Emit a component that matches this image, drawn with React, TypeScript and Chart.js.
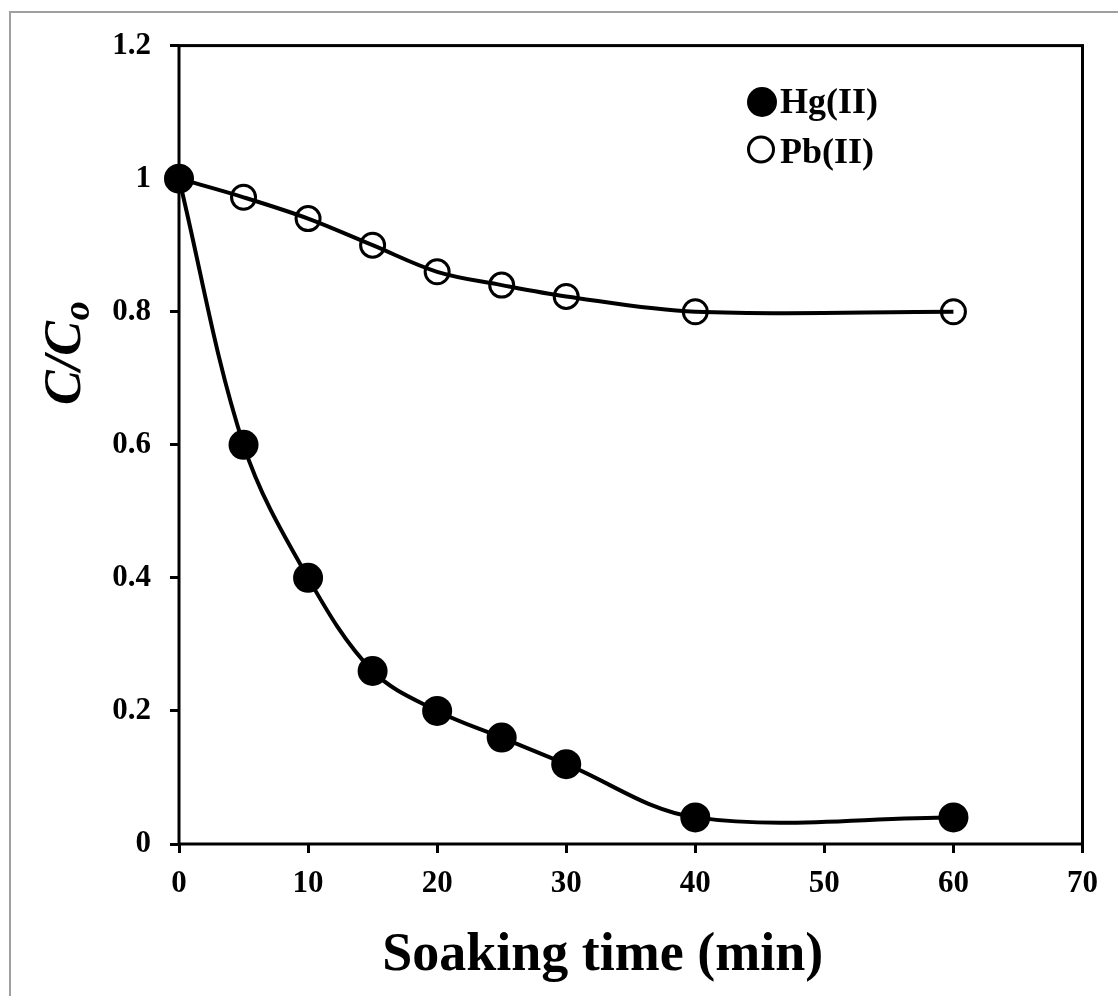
import React, { useEffect, useRef } from "react";
import { Chart, registerables } from "chart.js";

Chart.register(...registerables);

const timeMin = [0, 5, 10, 15, 20, 25, 30, 40, 60];
const hgValues = [1, 0.6, 0.4, 0.26, 0.2, 0.16, 0.12, 0.04, 0.04];
const pbValues = [1, 0.972, 0.94, 0.9, 0.86, 0.84, 0.823, 0.8, 0.8];
const xTickLabels = ["0", "10", "20", "30", "40", "50", "60", "70"];
const yTickLabels = ["0", "0.2", "0.4", "0.6", "0.8", "1", "1.2"];
const seriesNames = ["Hg(II)", "Pb(II)"];
const xTitle = "Soaking time (min)";

const SERIF = "'Liberation Serif', 'Times New Roman', serif";
const W = 1102;
const H = 980;

const decor = {
  id: "decor",
  beforeDatasetsDraw(chart: any) {
    const { ctx, chartArea: a } = chart;
    ctx.save();
    ctx.strokeStyle = "#000";
    ctx.lineWidth = 3;
    ctx.strokeRect(a.left, a.top, a.right - a.left, a.bottom - a.top);
    ctx.restore();
  },
  afterDraw(chart: any) {
    const { ctx, chartArea: a } = chart;
    ctx.save();
    ctx.fillStyle = "#000";
    ctx.strokeStyle = "#000";
    // legend
    ctx.font = `bold 36px ${SERIF}`;
    ctx.textBaseline = "alphabetic";
    ctx.textAlign = "left";
    ctx.beginPath();
    ctx.arc(754, 94, 15, 0, Math.PI * 2);
    ctx.fill();
    ctx.fillText(seriesNames[0], 772, 105);
    ctx.lineWidth = 3;
    ctx.beginPath();
    ctx.arc(753, 141.5, 12.5, 0, Math.PI * 2);
    ctx.stroke();
    ctx.fillText(seriesNames[1], 772, 155);

    // x title
    ctx.font = `bold 54px ${SERIF}`;
    ctx.textAlign = "center";
    ctx.fillText(xTitle, (a.left + a.right) / 2 - 28, 962);

    // y title
    ctx.save();
    ctx.translate(72, 397);
    ctx.rotate(-Math.PI / 2);
    ctx.textAlign = "left";
    ctx.font = `italic bold 52px ${SERIF}`;
    const main = "C/C";
    ctx.fillText(main, 0, 0);
    const w = ctx.measureText(main).width;
    ctx.font = `italic bold 38px ${SERIF}`;
    ctx.fillText("o", w + 1, 9);
    ctx.restore();

    ctx.restore();
  },
};

export default function App() {
  const ref = useRef<HTMLCanvasElement | null>(null);
  useEffect(() => {
    if (!ref.current) return;
    const chart = new Chart(ref.current, {
      type: "line",
      data: {
        datasets: [
          {
            label: seriesNames[0],
            data: timeMin.map((t, i) => ({ x: t, y: hgValues[i] })),
            borderColor: "#000",
            borderWidth: 4,
            tension: 0.35,
            pointRadius: 15,
            pointHoverRadius: 15,
            pointBackgroundColor: "#000",
            pointBorderColor: "#000",
            pointBorderWidth: 0,
            clip: false as any,
            fill: false,
          },
          {
            label: seriesNames[1],
            data: timeMin.map((t, i) => ({ x: t, y: pbValues[i] })),
            borderColor: "#000",
            borderWidth: 4,
            tension: 0.35,
            pointRadius: 12,
            pointHoverRadius: 12,
            pointBackgroundColor: "rgba(0,0,0,0)",
            pointBorderColor: "#000",
            pointBorderWidth: 3,
            clip: false as any,
            fill: false,
          },
        ],
      },
      options: {
        animation: false,
        responsive: false,
        maintainAspectRatio: false,
        events: [],
        layout: { padding: { top: 35, right: 24, left: 0, bottom: 0 } },
        plugins: {
          legend: { display: false },
          tooltip: { enabled: false },
          title: { display: false },
        },
        scales: {
          x: {
            type: "linear",
            min: 0,
            max: 70,
            afterFit: (s: any) => {
              s.height = 144;
            },
            border: { display: false },
            grid: {
              display: true,
              drawOnChartArea: false,
              drawTicks: true,
              tickLength: 9,
              color: "#000",
              lineWidth: 3,
            },
            ticks: {
              stepSize: 10,
              padding: 12,
              color: "#000",
              maxRotation: 0,
              font: { family: SERIF, size: 31, weight: "bold" },
              callback: (_v: any, i: number) => xTickLabels[i],
            },
          },
          y: {
            type: "linear",
            min: 0,
            max: 1.2,
            afterFit: (s: any) => {
              s.width = 171;
            },
            border: { display: false },
            grid: {
              display: true,
              drawOnChartArea: false,
              drawTicks: true,
              tickLength: 9,
              color: "#000",
              lineWidth: 3,
            },
            ticks: {
              stepSize: 0.2,
              padding: 19,
              color: "#000",
              font: { family: SERIF, size: 31, weight: "bold" },
              callback: (_v: any, i: number) => yTickLabels[i],
            },
          },
        },
      },
      plugins: [decor],
    } as any);
    return () => chart.destroy();
  }, []);
  return (
    <div style={{ width: W, height: H }}>
      <div
        style={{
          position: "absolute",
          left: 9,
          top: 11,
          width: 1109,
          height: 985,
          boxSizing: "border-box",
          borderLeft: "2px solid #a0a0a0",
          borderTop: "2px solid #a0a0a0",
          pointerEvents: "none",
        }}
      />
      <canvas ref={ref} width={W} height={H} style={{ width: W, height: H, display: "block" }} />
    </div>
  );
}
